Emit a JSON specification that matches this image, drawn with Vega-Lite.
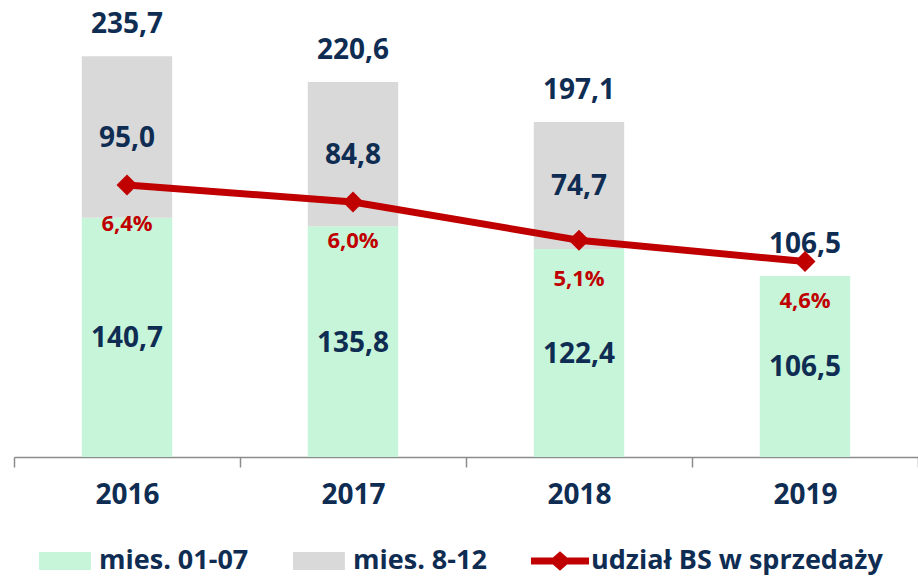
{
  "$schema": "https://vega.github.io/schema/vega-lite/v6.json",
  "width": 904,
  "height": 425,
  "autosize": {"type": "none"},
  "padding": {"left": 14, "top": 32, "right": 0, "bottom": 119},
  "background": "white",
  "config": {
    "view": {"stroke": null},
    "font": "Open Sans",
    "locale": {"number": {"decimal": ",", "thousands": " ", "grouping": [3], "currency": ["", " zł"]}}
  },
  "datasets": {
    "segments": [
      {"year": "2016", "series": "mies. 01-07", "value": 140.7},
      {"year": "2016", "series": "mies. 8-12", "value": 95.0},
      {"year": "2017", "series": "mies. 01-07", "value": 135.8},
      {"year": "2017", "series": "mies. 8-12", "value": 84.8},
      {"year": "2018", "series": "mies. 01-07", "value": 122.4},
      {"year": "2018", "series": "mies. 8-12", "value": 74.7},
      {"year": "2019", "series": "mies. 01-07", "value": 106.5}
    ],
    "years": [
      {"year": "2016", "total": 235.7, "share": 0.064},
      {"year": "2017", "total": 220.6, "share": 0.060},
      {"year": "2018", "total": 197.1, "share": 0.051},
      {"year": "2019", "total": 106.5, "share": 0.046}
    ]
  },
  "encoding": {
    "x": {
      "field": "year",
      "type": "nominal",
      "scale": {"paddingInner": 0, "paddingOuter": 0},
      "axis": {
        "title": null,
        "labelAngle": 0,
        "tickBand": "extent",
        "domainColor": "#8C8C8C",
        "domainWidth": 1.5,
        "tickColor": "#8C8C8C",
        "tickWidth": 1.5,
        "tickSize": 10,
        "labelFont": "Open Sans",
        "labelFontSize": 28,
        "labelFontWeight": "bold",
        "labelColor": "#0F2D52",
        "labelPadding": 14,
        "grid": false
      }
    }
  },
  "layer": [
    {
      "data": {"name": "segments"},
      "mark": {"type": "bar", "width": {"band": 0.4}},
      "encoding": {
        "y": {"field": "value", "type": "quantitative", "stack": "zero", "scale": {"domain": [0, 250]}, "axis": null},
        "order": {"field": "series", "type": "nominal", "sort": "ascending"},
        "color": {
          "field": "series",
          "type": "nominal",
          "scale": {
            "domain": ["mies. 01-07", "mies. 8-12", "udział BS w sprzedaży"],
            "range": ["#C6F5D9", "#D9D9D9", "#C00000"]
          },
          "legend": {
            "title": null,
            "orient": "none",
            "legendX": 25,
            "legendY": 500,
            "direction": "horizontal",
            "symbolSize": 3364,
            "labelFont": "Open Sans",
            "labelFontSize": 27,
            "labelFontWeight": "bold",
            "labelColor": "#0F2D52",
            "labelLimit": 500,
            "labelOffset": 2,
            "columnPadding": 44,
            "encode": {
              "symbols": {
                "update": {
                  "shape": {"signal": "datum.value === 'udział BS w sprzedaży' ? 'M-1,-0.12H1V0.12H-1Z M0,-0.34L0.38,0L0,0.34L-0.38,0Z' : 'M-1,-0.31H0.79V0.31H-1Z'"},
                  "fill": {"signal": "scale('color', datum.value)"},
                  "stroke": {"value": "transparent"},
                  "strokeWidth": {"value": 0},
                  "opacity": {"value": 1}
                }
              }
            }
          }
        }
      }
    },
    {
      "data": {"name": "segments"},
      "transform": [
        {"stack": "value", "groupby": ["year"], "sort": [{"field": "series", "order": "ascending"}], "as": ["v0", "v1"]},
        {"calculate": "(datum.v0 + datum.v1) / 2", "as": "mid"}
      ],
      "mark": {"type": "text", "font": "Open Sans", "fontSize": 28, "fontWeight": "bold", "color": "#0F2D52", "dy": 2},
      "encoding": {
        "y": {"field": "mid", "type": "quantitative", "scale": {"domain": [0, 250]}, "axis": null},
        "text": {"field": "value", "type": "quantitative", "format": ".1f"}
      }
    },
    {
      "data": {"name": "years"},
      "mark": {"type": "text", "font": "Open Sans", "fontSize": 28, "fontWeight": "bold", "color": "#0F2D52", "dy": -31},
      "encoding": {
        "y": {"field": "total", "type": "quantitative", "scale": {"domain": [0, 250]}, "axis": null},
        "text": {"field": "total", "type": "quantitative", "format": ".1f"}
      }
    },
    {
      "data": {"name": "years"},
      "mark": {"type": "line", "strokeWidth": 7, "point": {"shape": "diamond", "size": 441, "filled": true, "opacity": 1}},
      "encoding": {
        "y": {"field": "share", "type": "quantitative", "scale": {"domain": [0, 0.1]}, "axis": null},
        "color": {"datum": "udział BS w sprzedaży", "type": "nominal"}
      }
    },
    {
      "data": {"name": "years"},
      "mark": {"type": "text", "font": "Open Sans", "fontSize": 22, "fontWeight": "bold", "color": "#C00000", "dy": 39},
      "encoding": {
        "y": {"field": "share", "type": "quantitative", "scale": {"domain": [0, 0.1]}, "axis": null},
        "text": {"field": "share", "type": "quantitative", "format": ".1%"}
      }
    }
  ],
  "resolve": {"scale": {"y": "independent"}}
}
